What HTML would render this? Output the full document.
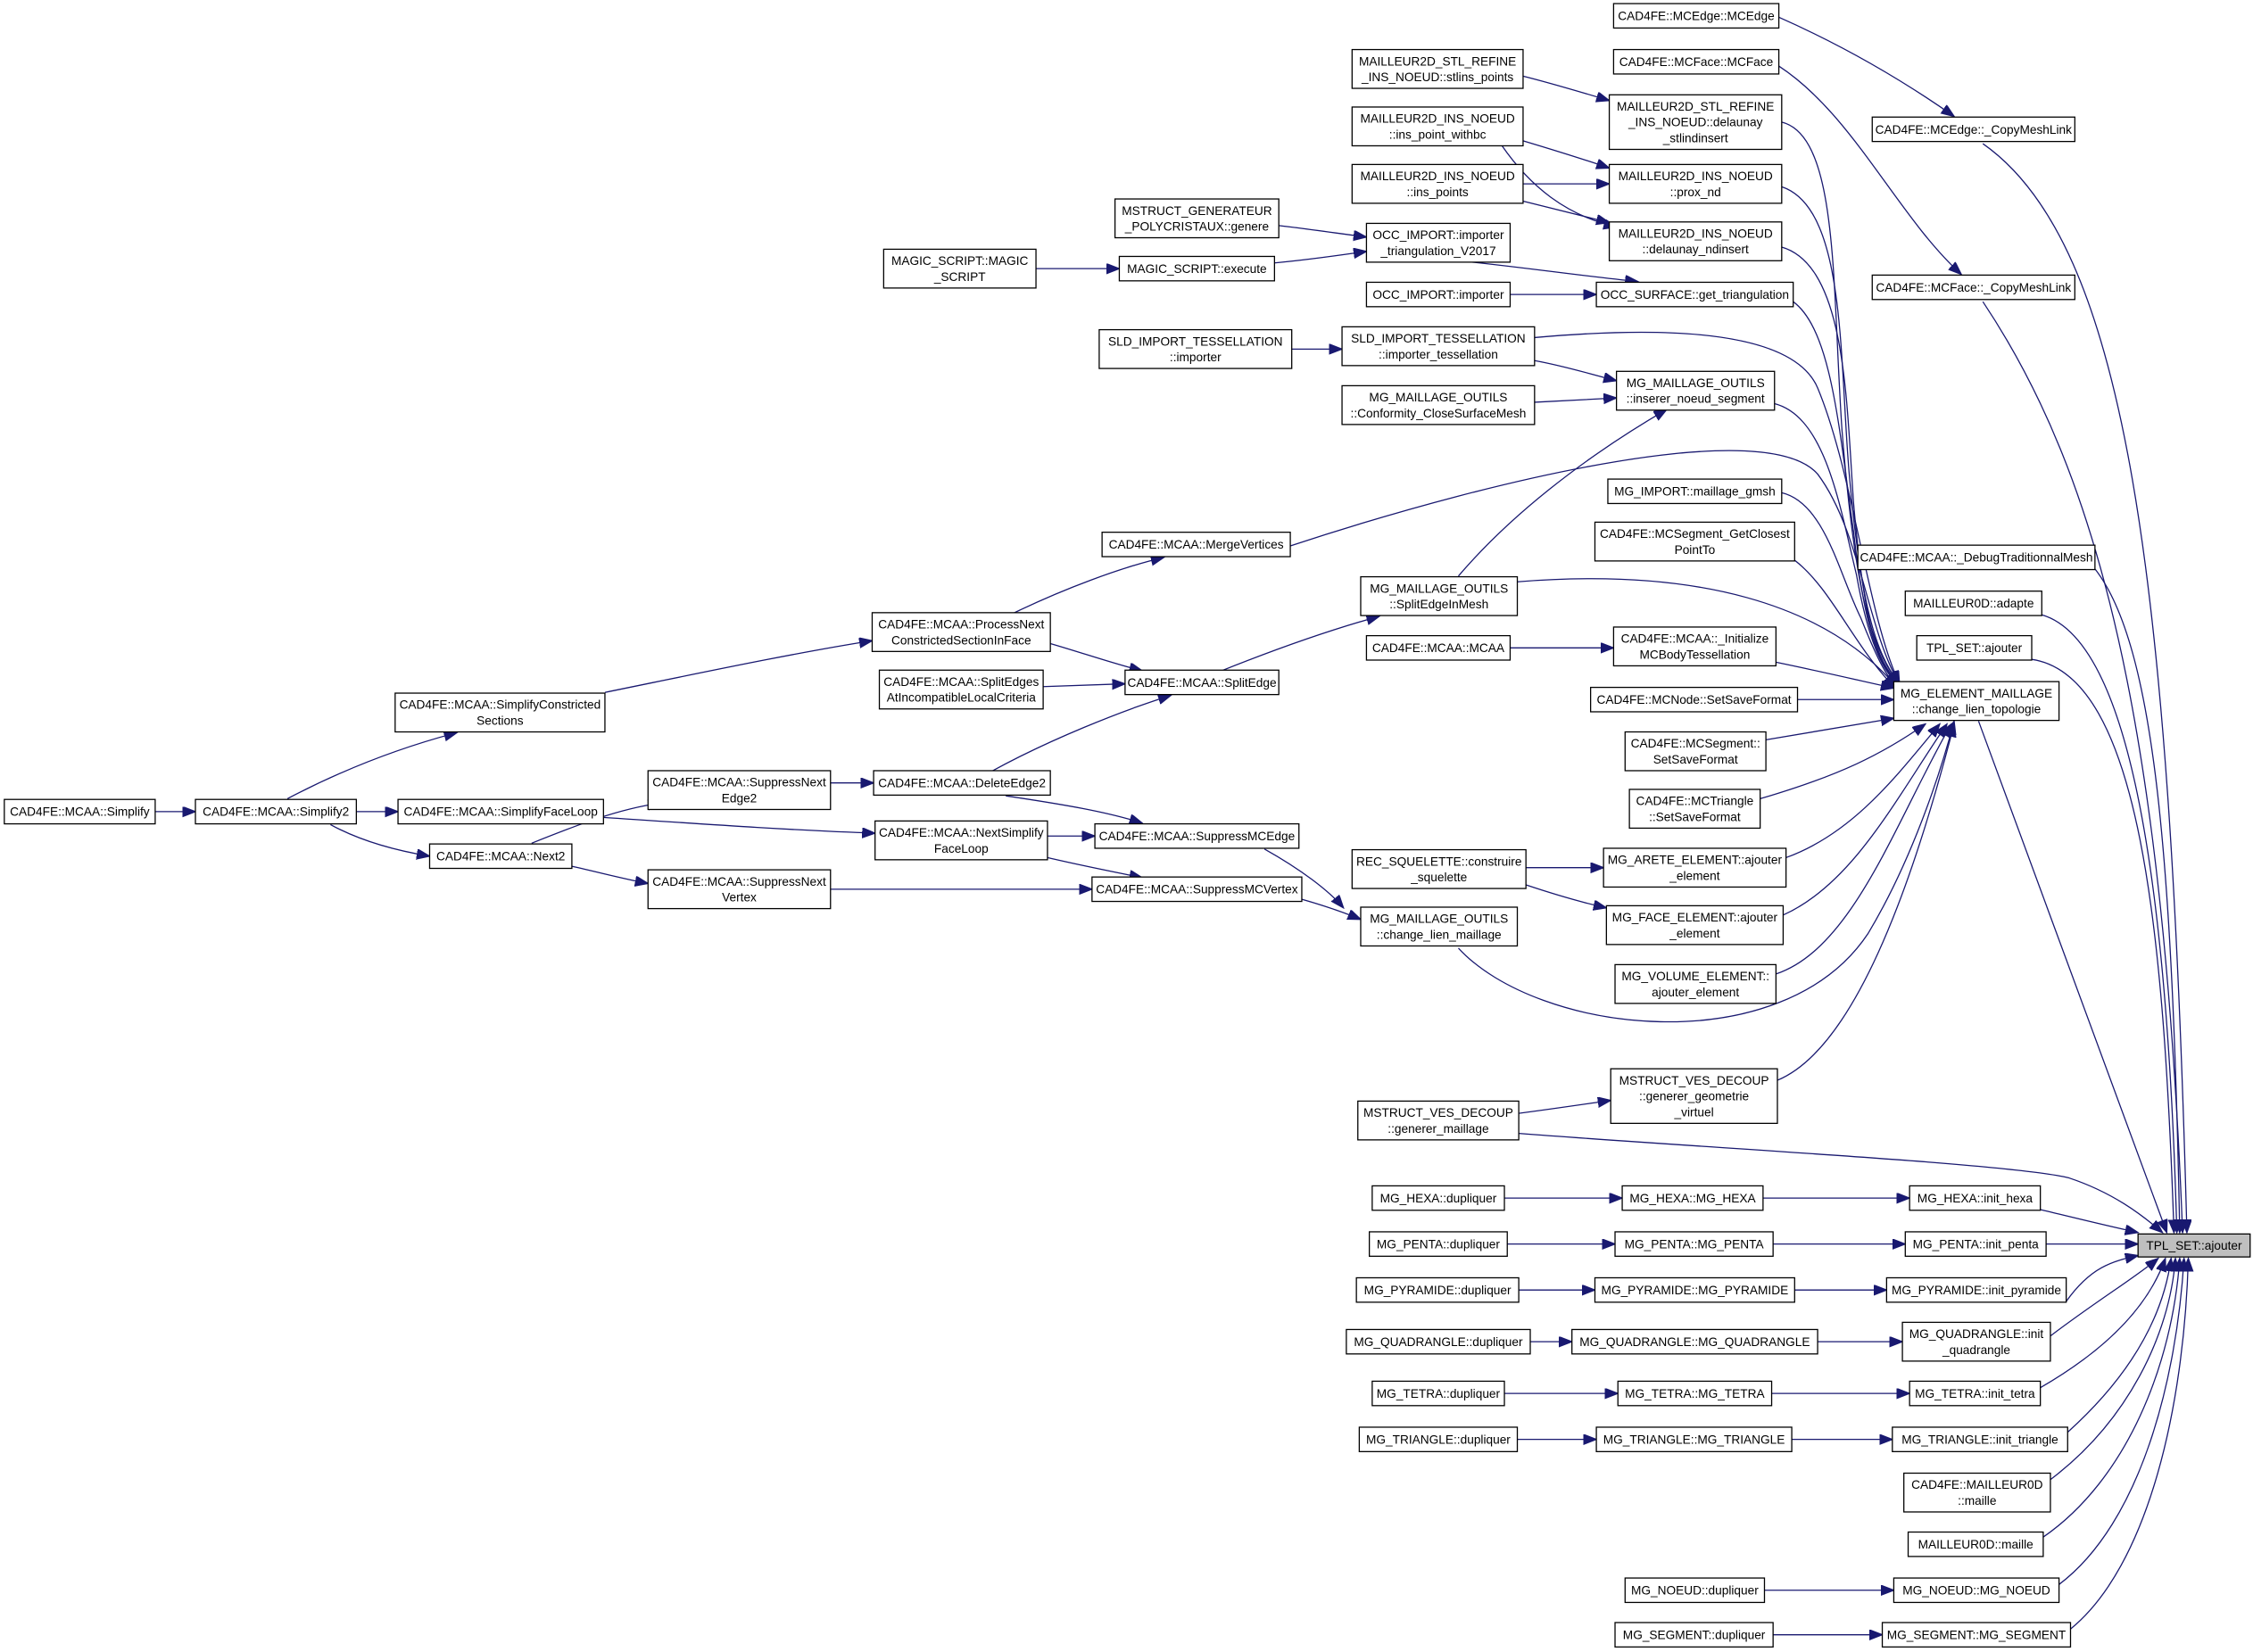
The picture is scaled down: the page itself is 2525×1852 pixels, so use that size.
<!DOCTYPE html>
<html><head><meta charset="utf-8"><style>
html,body{margin:0;padding:0;background:#fff;}
svg{display:block}
text{font-family:"Liberation Sans",Arial,sans-serif;font-size:8.5px;fill:#000;text-anchor:middle}
rect{fill:#fff;stroke:#000;stroke-width:0.8}
path{fill:none;stroke:#191970;stroke-width:0.8}
</style></head><body>
<svg width="2525" height="1852" viewBox="0 0 1568 1150" preserveAspectRatio="none" xmlns="http://www.w3.org/2000/svg">
<defs><marker id="a" markerUnits="userSpaceOnUse" markerWidth="10" markerHeight="8" refX="9" refY="3.5" orient="auto"><path d="M0,0 L9,3.5 L0,7 z" style="fill:#191970;stroke:#191970"/></marker></defs>
<g marker-end="url(#a)">
<path d="M108,565 L136,565"/>
<path d="M200,556 C240,535 280,520 318,510"/>
<path d="M248,565 L277,565"/>
<path d="M230,574 C250,585 275,592 299,596"/>
<path d="M421,482 C480,470 550,455 607,446"/>
<path d="M420,569 C480,573 550,578 609,580"/>
<path d="M370,587 C400,575 430,563 460,559"/>
<path d="M398,603 C420,608 435,612 451,615"/>
<path d="M705,427 C740,410 780,395 810,388"/>
<path d="M731,448 C755,455 775,462 795,467"/>
<path d="M726,478 L783,476"/>
<path d="M578,545 L608,545"/>
<path d="M690,537 C730,515 780,495 815,484"/>
<path d="M700,554 C740,560 770,565 795,573"/>
<path d="M729,582 L762,582"/>
<path d="M729,597 C750,602 770,606 795,611"/>
<path d="M578,619 L760,619"/>
<path d="M850,467 C880,455 920,440 960,429"/>
<path d="M880,591 C905,605 925,620 935,632"/>
<path d="M906,626 C920,630 935,635 947,640"/>
<path d="M721,187 L779,187"/>
<path d="M890,157 C915,160 935,163 951,165"/>
<path d="M887,183 C910,181 930,178 951,175"/>
<path d="M899,243 L934,243"/>
<path d="M1015,401 C1050,360 1100,320 1160,285"/>
<path d="M1060,53 C1080,58 1100,64 1120,70"/>
<path d="M1060,98 C1080,104 1100,110 1120,117"/>
<path d="M1045,101 C1065,130 1090,150 1125,158"/>
<path d="M1060,128 L1120,128"/>
<path d="M1060,140 C1080,145 1100,150 1120,155"/>
<path d="M1020,182 C1060,186 1100,192 1140,196"/>
<path d="M1051,205 L1111,205"/>
<path d="M1068,251 C1090,255 1105,260 1125,265"/>
<path d="M1068,280 C1090,279 1105,278 1125,277"/>
<path d="M1051,451 L1123,451"/>
<path d="M1062,604 L1116,604"/>
<path d="M1062,616 C1080,622 1100,628 1118,632"/>
<path d="M1057,775 C1080,772 1100,769 1121,766"/>
<path d="M1238,12 C1290,35 1330,60 1360,81"/>
<path d="M1238,46 C1290,80 1320,150 1365,191"/>
<path d="M1047,834 L1129,834"/><path d="M1227,834 L1329,834"/>
<path d="M1049,866 L1124,866"/><path d="M1234,866 L1326,866"/>
<path d="M1057,898 L1110,898"/><path d="M1249,898 L1313,898"/>
<path d="M1065,934 L1094,934"/><path d="M1265,934 L1324,934"/>
<path d="M1047,970 L1126,970"/><path d="M1233,970 L1329,970"/>
<path d="M1056,1002 L1111,1002"/><path d="M1247,1002 L1317,1002"/>
<path d="M1228,1107 L1318,1107"/><path d="M1234,1138 L1310,1138"/>
<path d="M898,380 C1050,330 1230,290 1265,330 C1295,370 1300,440 1322,476"/>
<path d="M1056,405 C1180,395 1270,420 1320,478"/>
<path d="M1015,660 C1070,720 1240,740 1300,650 C1330,600 1350,540 1360,502"/>
<path d="M1068,235 C1180,225 1250,235 1265,270 C1290,330 1300,430 1322,476"/>
<path d="M1240,85 C1280,95 1275,200 1282,300 C1290,400 1300,450 1322,476"/>
<path d="M1240,130 C1285,145 1280,250 1287,330 C1295,420 1305,455 1322,476"/>
<path d="M1240,172 C1285,185 1285,280 1290,350 C1297,430 1305,460 1322,476"/>
<path d="M1248,210 C1275,230 1280,300 1290,370 C1298,440 1308,465 1322,476"/>
<path d="M1235,281 C1270,290 1280,350 1292,400 C1300,445 1310,468 1322,477"/>
<path d="M1240,343 C1270,350 1280,400 1295,430 C1305,455 1312,470 1320,478"/>
<path d="M1249,390 C1275,410 1290,450 1320,480"/>
<path d="M1236,461 C1270,468 1295,474 1318,479"/>
<path d="M1251,487 L1318,487"/>
<path d="M1229,515 C1260,510 1290,505 1318,500"/>
<path d="M1225,556 C1280,540 1310,525 1340,504"/>
<path d="M1243,597 C1290,580 1320,540 1350,504"/>
<path d="M1241,637 C1290,615 1320,555 1355,504"/>
<path d="M1236,678 C1290,660 1320,570 1358,504"/>
<path d="M1237,752 C1290,730 1330,620 1360,504"/>
<path d="M1380,100 C1480,170 1510,400 1522,858"/>
<path d="M1380,210 C1460,330 1505,500 1519,858"/>
<path d="M1458,396 C1500,450 1512,600 1517,858"/>
<path d="M1421,428 C1480,445 1508,600 1515,858"/>
<path d="M1414,459 C1490,470 1506,650 1513,858"/>
<path d="M1377,502 C1420,620 1480,780 1508,858"/>
<path d="M1057,789 C1200,800 1400,810 1440,820 C1470,830 1490,845 1505,858"/>
<path d="M1420,842 C1445,848 1465,853 1488,858"/>
<path d="M1424,866 L1488,866"/>
<path d="M1438,906 C1455,882 1470,878 1488,874"/>
<path d="M1427,930 C1460,905 1485,890 1502,876"/>
<path d="M1420,966 C1465,940 1495,910 1507,876"/>
<path d="M1439,997 C1480,960 1505,920 1511,876"/>
<path d="M1427,1030 C1480,990 1510,930 1514,876"/>
<path d="M1422,1070 C1480,1030 1512,950 1517,876"/>
<path d="M1433,1103 C1490,1060 1515,960 1520,876"/>
<path d="M1441,1134 C1495,1090 1520,980 1523,876"/>
</g>
<g>
<rect x="3" y="556.5" width="105" height="17"/><text x="55.5" y="568">CAD4FE::MCAA::Simplify</text>
<rect x="136" y="556.5" width="112" height="17"/><text x="192" y="568">CAD4FE::MCAA::Simplify2</text>
<rect x="275" y="482.5" width="146" height="27"/><text x="348" y="493.5">CAD4FE::MCAA::SimplifyConstricted</text><text x="348" y="504.5">Sections</text>
<rect x="277" y="556.5" width="143" height="17"/><text x="348.5" y="568">CAD4FE::MCAA::SimplifyFaceLoop</text>
<rect x="299" y="587.5" width="99" height="17"/><text x="348.5" y="599">CAD4FE::MCAA::Next2</text>
<rect x="607" y="426.5" width="124" height="27"/><text x="669" y="437.5">CAD4FE::MCAA::ProcessNext</text><text x="669" y="448.5">ConstrictedSectionInFace</text>
<rect x="612" y="466.5" width="114" height="27"/><text x="669" y="477.5">CAD4FE::MCAA::SplitEdges</text><text x="669" y="488.5">AtIncompatibleLocalCriteria</text>
<rect x="451" y="536.5" width="127" height="27"/><text x="514.5" y="547.5">CAD4FE::MCAA::SuppressNext</text><text x="514.5" y="558.5">Edge2</text>
<rect x="608" y="536.5" width="123" height="17"/><text x="669.5" y="548">CAD4FE::MCAA::DeleteEdge2</text>
<rect x="609" y="571.5" width="120" height="27"/><text x="669" y="582.5">CAD4FE::MCAA::NextSimplify</text><text x="669" y="593.5">FaceLoop</text>
<rect x="451" y="605.5" width="127" height="27"/><text x="514.5" y="616.5">CAD4FE::MCAA::SuppressNext</text><text x="514.5" y="627.5">Vertex</text>
<rect x="767" y="370.5" width="131" height="17"/><text x="832.5" y="382">CAD4FE::MCAA::MergeVertices</text>
<rect x="783" y="466.5" width="107" height="17"/><text x="836.5" y="478">CAD4FE::MCAA::SplitEdge</text>
<rect x="762" y="573.5" width="142" height="17"/><text x="833" y="585">CAD4FE::MCAA::SuppressMCEdge</text>
<rect x="760" y="610.5" width="146" height="17"/><text x="833" y="622">CAD4FE::MCAA::SuppressMCVertex</text>
<rect x="615" y="173.5" width="106" height="27"/><text x="668" y="184.5">MAGIC_SCRIPT::MAGIC</text><text x="668" y="195.5">_SCRIPT</text>
<rect x="776" y="138.5" width="114" height="27"/><text x="833" y="149.5">MSTRUCT_GENERATEUR</text><text x="833" y="160.5">_POLYCRISTAUX::genere</text>
<rect x="779" y="178.5" width="108" height="17"/><text x="833" y="190">MAGIC_SCRIPT::execute</text>
<rect x="765" y="229.5" width="134" height="27"/><text x="832" y="240.5">SLD_IMPORT_TESSELLATION</text><text x="832" y="251.5">::importer</text>
<rect x="947" y="401.5" width="109" height="27"/><text x="1001.5" y="412.5">MG_MAILLAGE_OUTILS</text><text x="1001.5" y="423.5">::SplitEdgeInMesh</text>
<rect x="947" y="631.5" width="109" height="27"/><text x="1001.5" y="642.5">MG_MAILLAGE_OUTILS</text><text x="1001.5" y="653.5">::change_lien_maillage</text>
<rect x="941" y="591.5" width="121" height="27"/><text x="1001.5" y="602.5">REC_SQUELETTE::construire</text><text x="1001.5" y="613.5">_squelette</text>
<rect x="945" y="766.5" width="112" height="27"/><text x="1001" y="777.5">MSTRUCT_VES_DECOUP</text><text x="1001" y="788.5">::generer_maillage</text>
<rect x="941" y="34.5" width="119" height="27"/><text x="1000.5" y="45.5">MAILLEUR2D_STL_REFINE</text><text x="1000.5" y="56.5">_INS_NOEUD::stlins_points</text>
<rect x="941" y="74.5" width="119" height="27"/><text x="1000.5" y="85.5">MAILLEUR2D_INS_NOEUD</text><text x="1000.5" y="96.5">::ins_point_withbc</text>
<rect x="941" y="114.5" width="119" height="27"/><text x="1000.5" y="125.5">MAILLEUR2D_INS_NOEUD</text><text x="1000.5" y="136.5">::ins_points</text>
<rect x="951" y="155.5" width="100" height="27"/><text x="1001" y="166.5">OCC_IMPORT::importer</text><text x="1001" y="177.5">_triangulation_V2017</text>
<rect x="951" y="196.5" width="100" height="17"/><text x="1001" y="208">OCC_IMPORT::importer</text>
<rect x="934" y="227.5" width="134" height="27"/><text x="1001" y="238.5">SLD_IMPORT_TESSELLATION</text><text x="1001" y="249.5">::importer_tessellation</text>
<rect x="934" y="268.5" width="134" height="27"/><text x="1001" y="279.5">MG_MAILLAGE_OUTILS</text><text x="1001" y="290.5">::Conformity_CloseSurfaceMesh</text>
<rect x="951" y="442.5" width="100" height="17"/><text x="1001" y="454">CAD4FE::MCAA::MCAA</text>
<rect x="955" y="825.5" width="92" height="17"/><text x="1001" y="837">MG_HEXA::dupliquer</text>
<rect x="953" y="857.5" width="96" height="17"/><text x="1001" y="869">MG_PENTA::dupliquer</text>
<rect x="944" y="889.5" width="113" height="17"/><text x="1000.5" y="901">MG_PYRAMIDE::dupliquer</text>
<rect x="937" y="925.5" width="128" height="17"/><text x="1001" y="937">MG_QUADRANGLE::dupliquer</text>
<rect x="955" y="961.5" width="92" height="17"/><text x="1001" y="973">MG_TETRA::dupliquer</text>
<rect x="946" y="993.5" width="110" height="17"/><text x="1001" y="1005">MG_TRIANGLE::dupliquer</text>
<rect x="1123" y="2.5" width="115" height="17"/><text x="1180.5" y="14">CAD4FE::MCEdge::MCEdge</text>
<rect x="1123" y="34.5" width="115" height="17"/><text x="1180.5" y="46">CAD4FE::MCFace::MCFace</text>
<rect x="1120" y="66" width="120" height="38"/><text x="1180" y="77">MAILLEUR2D_STL_REFINE</text><text x="1180" y="88">_INS_NOEUD::delaunay</text><text x="1180" y="99">_stlindinsert</text>
<rect x="1120" y="114.5" width="120" height="27"/><text x="1180" y="125.5">MAILLEUR2D_INS_NOEUD</text><text x="1180" y="136.5">::prox_nd</text>
<rect x="1120" y="154.5" width="120" height="27"/><text x="1180" y="165.5">MAILLEUR2D_INS_NOEUD</text><text x="1180" y="176.5">::delaunay_ndinsert</text>
<rect x="1111" y="196.5" width="137" height="17"/><text x="1179.5" y="208">OCC_SURFACE::get_triangulation</text>
<rect x="1125" y="258.5" width="110" height="27"/><text x="1180" y="269.5">MG_MAILLAGE_OUTILS</text><text x="1180" y="280.5">::inserer_noeud_segment</text>
<rect x="1119" y="333.5" width="121" height="17"/><text x="1179.5" y="345">MG_IMPORT::maillage_gmsh</text>
<rect x="1110" y="363.5" width="139" height="27"/><text x="1179.5" y="374.5">CAD4FE::MCSegment_GetClosest</text><text x="1179.5" y="385.5">PointTo</text>
<rect x="1123" y="436.5" width="113" height="27"/><text x="1179.5" y="447.5">CAD4FE::MCAA::_Initialize</text><text x="1179.5" y="458.5">MCBodyTessellation</text>
<rect x="1107" y="478.5" width="144" height="17"/><text x="1179" y="490">CAD4FE::MCNode::SetSaveFormat</text>
<rect x="1131" y="509.5" width="98" height="27"/><text x="1180" y="520.5">CAD4FE::MCSegment::</text><text x="1180" y="531.5">SetSaveFormat</text>
<rect x="1134" y="549.5" width="91" height="27"/><text x="1179.5" y="560.5">CAD4FE::MCTriangle</text><text x="1179.5" y="571.5">::SetSaveFormat</text>
<rect x="1116" y="590.5" width="127" height="27"/><text x="1179.5" y="601.5">MG_ARETE_ELEMENT::ajouter</text><text x="1179.5" y="612.5">_element</text>
<rect x="1118" y="630.5" width="123" height="27"/><text x="1179.5" y="641.5">MG_FACE_ELEMENT::ajouter</text><text x="1179.5" y="652.5">_element</text>
<rect x="1124" y="671.5" width="112" height="27"/><text x="1180" y="682.5">MG_VOLUME_ELEMENT::</text><text x="1180" y="693.5">ajouter_element</text>
<rect x="1121" y="744" width="116" height="38"/><text x="1179" y="755">MSTRUCT_VES_DECOUP</text><text x="1179" y="766">::generer_geometrie</text><text x="1179" y="777">_virtuel</text>
<rect x="1129" y="825.5" width="98" height="17"/><text x="1178" y="837">MG_HEXA::MG_HEXA</text>
<rect x="1124" y="857.5" width="110" height="17"/><text x="1179" y="869">MG_PENTA::MG_PENTA</text>
<rect x="1110" y="889.5" width="139" height="17"/><text x="1179.5" y="901">MG_PYRAMIDE::MG_PYRAMIDE</text>
<rect x="1094" y="925.5" width="171" height="17"/><text x="1179.5" y="937">MG_QUADRANGLE::MG_QUADRANGLE</text>
<rect x="1126" y="961.5" width="107" height="17"/><text x="1179.5" y="973">MG_TETRA::MG_TETRA</text>
<rect x="1111" y="993.5" width="136" height="17"/><text x="1179" y="1005">MG_TRIANGLE::MG_TRIANGLE</text>
<rect x="1131" y="1098.5" width="97" height="17"/><text x="1179.5" y="1110">MG_NOEUD::dupliquer</text>
<rect x="1124" y="1129.5" width="110" height="17"/><text x="1179" y="1141">MG_SEGMENT::dupliquer</text>
<rect x="1303" y="81.5" width="141" height="17"/><text x="1373.5" y="93">CAD4FE::MCEdge::_CopyMeshLink</text>
<rect x="1303" y="191.5" width="141" height="17"/><text x="1373.5" y="203">CAD4FE::MCFace::_CopyMeshLink</text>
<rect x="1293" y="379.5" width="165" height="17"/><text x="1375.5" y="391">CAD4FE::MCAA::_DebugTraditionnalMesh</text>
<rect x="1326" y="411.5" width="95" height="17"/><text x="1373.5" y="423">MAILLEUR0D::adapte</text>
<rect x="1334" y="442.5" width="80" height="17"/><text x="1374" y="454">TPL_SET::ajouter</text>
<rect x="1318" y="474.5" width="115" height="27"/><text x="1375.5" y="485.5">MG_ELEMENT_MAILLAGE</text><text x="1375.5" y="496.5">::change_lien_topologie</text>
<rect x="1329" y="825.5" width="91" height="17"/><text x="1374.5" y="837">MG_HEXA::init_hexa</text>
<rect x="1326" y="857.5" width="98" height="17"/><text x="1375" y="869">MG_PENTA::init_penta</text>
<rect x="1313" y="889.5" width="125" height="17"/><text x="1375.5" y="901">MG_PYRAMIDE::init_pyramide</text>
<rect x="1324" y="920.5" width="103" height="27"/><text x="1375.5" y="931.5">MG_QUADRANGLE::init</text><text x="1375.5" y="942.5">_quadrangle</text>
<rect x="1329" y="961.5" width="91" height="17"/><text x="1374.5" y="973">MG_TETRA::init_tetra</text>
<rect x="1317" y="993.5" width="122" height="17"/><text x="1378" y="1005">MG_TRIANGLE::init_triangle</text>
<rect x="1325" y="1025.5" width="102" height="27"/><text x="1376" y="1036.5">CAD4FE::MAILLEUR0D</text><text x="1376" y="1047.5">::maille</text>
<rect x="1328" y="1066.5" width="94" height="17"/><text x="1375" y="1078">MAILLEUR0D::maille</text>
<rect x="1318" y="1098.5" width="115" height="17"/><text x="1375.5" y="1110">MG_NOEUD::MG_NOEUD</text>
<rect x="1310" y="1129.5" width="131" height="17"/><text x="1375.5" y="1141">MG_SEGMENT::MG_SEGMENT</text>
<rect x="1488" y="859" width="78" height="16" style="fill:#bfbfbf"/><text x="1527" y="870">TPL_SET::ajouter</text>
</g>
</svg>
</body></html>
